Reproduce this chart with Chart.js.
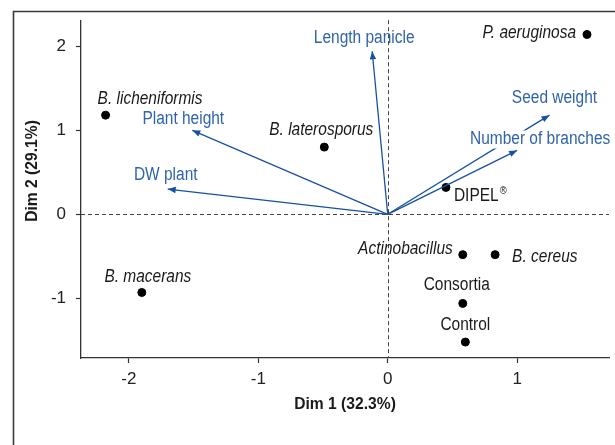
<!DOCTYPE html>
<html>
<head>
<meta charset="utf-8">
<script src="https://cdn.jsdelivr.net/npm/chart.js@4/dist/chart.umd.min.js"></script>
<style>
  html, body { margin: 0; padding: 0; background: #fff; }
  canvas { display: block; }
</style>
</head>
<body>
<canvas id="biplot" width="615" height="445"></canvas>
<script>
// PCA biplot: treatment scores and variable loadings on the first two dimensions
const treatments = ['B. licheniformis', 'B. laterosporus', 'P. aeruginosa', 'DIPEL', 'B. macerans',
                    'Actinobacillus', 'B. cereus', 'Consortia', 'Control'];
const treatDim1 = [-2.18, -0.49, 1.54, 0.45, -1.90, 0.58, 0.83, 0.58, 0.60];
const treatDim2 = [1.18, 0.80, 2.14, 0.32, -0.93, -0.48, -0.48, -1.06, -1.52];

const variables = ['Length panicle', 'Plant height', 'DW plant', 'Seed weight', 'Number of branches'];
const varDim1 = [-0.12, -1.51, -1.70, 1.25, 1.00];
const varDim2 = [1.94, 1.00, 0.30, 1.18, 0.76];

const xTicks = [-2, -1, 0, 1];
const yTicks = [-1, 0, 1, 2];
const xTitle = 'Dim 1 (32.3%)';
const yTitle = 'Dim 2 (29.1%)';

// label placement (pixel offsets from the marker / arrow tip)
const treatLabelStyle = {
  'B. licheniformis': { align: 'left',   dx: -8,  dy: -16, italic: true },
  'B. laterosporus':  { align: 'center', dx: -3,  dy: -17, italic: true },
  'P. aeruginosa':    { align: 'right',  dx: -11, dy: -1,  italic: true },
  'DIPEL':            { align: 'left',   dx: 8,   dy: 9,   italic: false, mark: '\u00AE' },
  'B. macerans':      { align: 'center', dx: 6,   dy: -15, italic: true },
  'Actinobacillus':   { align: 'right',  dx: -10, dy: -6,  italic: true },
  'B. cereus':        { align: 'left',   dx: 17,  dy: 2,   italic: true },
  'Consortia':        { align: 'center', dx: -6,  dy: -18, italic: false },
  'Control':          { align: 'center', dx: 0,   dy: -17, italic: false }
};
const varLabelStyle = {
  'Length panicle':     { dx: -8, dy: -13 },
  'Plant height':       { dx: -9, dy: -11 },
  'DW plant':           { dx: -2, dy: -14 },
  'Seed weight':        { dx: 5,  dy: -17 },
  'Number of branches': { dx: 23, dy: -11, backdrop: true }
};

const FAMILY = "'Liberation Sans Narrow', 'Arial Narrow', 'Liberation Sans', sans-serif";
const NARROW = 0.86;   // horizontal squeeze for a condensed look
const LABEL_SIZE = 18;
const ARROW_COLOR = '#1652a0';
const VAR_TEXT = '#2f64ad';
const AXIS_COLOR = '#333333';

const pointData = treatments.map((n, i) => ({ x: treatDim1[i], y: treatDim2[i] }));
const arrowSets = variables.map((n, i) => ({
  label: n,
  data: [{ x: 0, y: 0 }, { x: varDim1[i], y: varDim2[i] }],
  showLine: true,
  borderColor: ARROW_COLOR,
  borderWidth: 1.3,
  pointRadius: 0,
  fill: false,
  isArrow: true
}));

// draw text squeezed horizontally around its anchor
function narrowText(ctx, text, x, y, align, sx) {
  ctx.save();
  ctx.translate(x, y);
  ctx.scale(sx, 1);
  ctx.textAlign = align;
  ctx.fillText(text, 0, 0);
  const w = ctx.measureText(text).width * sx;
  ctx.restore();
  return w;
}

const framePlugin = {
  id: 'frame',
  beforeDraw(chart) {
    const ctx = chart.ctx;
    ctx.save();
    ctx.strokeStyle = '#3a3a3a';
    ctx.lineWidth = 1.6;
    ctx.beginPath();
    ctx.moveTo(13.5, 445);
    ctx.lineTo(13.5, 11.5);
    ctx.lineTo(615, 11.5);
    ctx.stroke();
    ctx.restore();
  }
};

const refLinesPlugin = {
  id: 'refLines',
  afterDatasetsDraw(chart) {
    const { ctx, chartArea: a, scales: { x, y } } = chart;
    const x0 = Math.round(x.getPixelForValue(0)) + 0.5;
    const y0 = Math.round(y.getPixelForValue(0)) + 0.5;
    ctx.save();
    ctx.strokeStyle = '#444';
    ctx.lineWidth = 1;
    ctx.setLineDash([4, 3]);
    ctx.beginPath();
    ctx.moveTo(a.left, y0); ctx.lineTo(a.right, y0);
    ctx.moveTo(x0, a.top); ctx.lineTo(x0, a.bottom);
    ctx.stroke();
    ctx.restore();
  }
};

const arrowHeadPlugin = {
  id: 'arrowHeads',
  afterDatasetsDraw(chart) {
    const { ctx, scales: { x, y } } = chart;
    ctx.save();
    ctx.fillStyle = ARROW_COLOR;
    chart.data.datasets.forEach(ds => {
      if (!ds.isArrow) return;
      const p0 = ds.data[0], p1 = ds.data[1];
      const ax = x.getPixelForValue(p0.x), ay = y.getPixelForValue(p0.y);
      const bx = x.getPixelForValue(p1.x), by = y.getPixelForValue(p1.y);
      const ang = Math.atan2(by - ay, bx - ax);
      const len = 8, half = 3.2;
      ctx.beginPath();
      ctx.moveTo(bx, by);
      ctx.lineTo(bx - len * Math.cos(ang) + half * Math.sin(ang), by - len * Math.sin(ang) - half * Math.cos(ang));
      ctx.lineTo(bx - len * Math.cos(ang) - half * Math.sin(ang), by - len * Math.sin(ang) + half * Math.cos(ang));
      ctx.closePath();
      ctx.fill();
    });
    ctx.restore();
  }
};

const labelPlugin = {
  id: 'labels',
  afterDraw(chart) {
    const { ctx, scales: { x, y } } = chart;
    ctx.save();
    ctx.textBaseline = 'middle';

    // variable names at the arrow tips
    ctx.font = `${LABEL_SIZE}px ${FAMILY}`;
    variables.forEach((name, i) => {
      const st = varLabelStyle[name];
      const px = x.getPixelForValue(varDim1[i]) + st.dx;
      const py = y.getPixelForValue(varDim2[i]) + st.dy;
      const w = ctx.measureText(name).width * NARROW;
      if (st.backdrop) {
        ctx.fillStyle = '#fff';
        ctx.fillRect(px - w / 2 - 1, py - 9, w + 2, 18);
      }
      ctx.fillStyle = VAR_TEXT;
      narrowText(ctx, name, px, py, 'center', NARROW);
    });

    // treatment names next to the score points
    treatments.forEach((name, i) => {
      const st = treatLabelStyle[name];
      const px = x.getPixelForValue(treatDim1[i]) + st.dx;
      const py = y.getPixelForValue(treatDim2[i]) + st.dy;
      ctx.font = `${st.italic ? 'italic ' : ''}${LABEL_SIZE}px ${FAMILY}`;
      ctx.fillStyle = '#1a1a1a';
      const w = narrowText(ctx, name, px, py, st.align, NARROW);
      if (st.mark) {
        ctx.font = `11px ${FAMILY}`;
        narrowText(ctx, st.mark, px + w + 1, py - 5, 'left', NARROW);
      }
    });

    // axis titles
    ctx.fillStyle = '#1a1a1a';
    ctx.font = `bold 17px ${FAMILY}`;
    narrowText(ctx, xTitle, (chart.chartArea.left + chart.chartArea.right) / 2, 404, 'center', 0.92);
    ctx.translate(32, 171);
    ctx.rotate(-Math.PI / 2);
    narrowText(ctx, yTitle, 0, 0, 'center', 0.92);
    ctx.restore();
  }
};

const tickFont = { family: FAMILY, size: 17 };

new Chart(document.getElementById('biplot'), {
  type: 'scatter',
  data: {
    datasets: [
      ...arrowSets,
      {
        label: 'Treatments',
        data: pointData,
        backgroundColor: '#000',
        borderColor: '#000',
        pointRadius: 4,
        pointHoverRadius: 4
      }
    ]
  },
  options: {
    responsive: false,
    animation: false,
    events: [],
    layout: { padding: { top: 20, right: 6, left: 0, bottom: 0 } },
    plugins: { legend: { display: false }, tooltip: { enabled: false } },
    scales: {
      x: {
        type: 'linear',
        min: -2.37,
        max: 1.71,
        afterBuildTicks: s => { s.ticks = xTicks.map(v => ({ value: v })); },
        afterFit: s => { s.height = 87; },
        grid: { drawOnChartArea: false, drawTicks: true, tickLength: 5, color: AXIS_COLOR, tickWidth: 1.2 },
        border: { display: true, color: AXIS_COLOR, width: 1.3 },
        ticks: { font: tickFont, color: '#222', padding: 6, maxRotation: 0 }
      },
      y: {
        type: 'linear',
        min: -1.71,
        max: 2.31,
        afterBuildTicks: s => { s.ticks = yTicks.map(v => ({ value: v })); },
        afterFit: s => { s.width = 81; },
        grid: { drawOnChartArea: false, drawTicks: true, tickLength: 5, color: AXIS_COLOR, tickWidth: 1.2 },
        border: { display: true, color: AXIS_COLOR, width: 1.3 },
        ticks: { font: tickFont, color: '#222', padding: 10 }
      }
    }
  },
  plugins: [framePlugin, refLinesPlugin, arrowHeadPlugin, labelPlugin]
});
</script>
</body>
</html>
